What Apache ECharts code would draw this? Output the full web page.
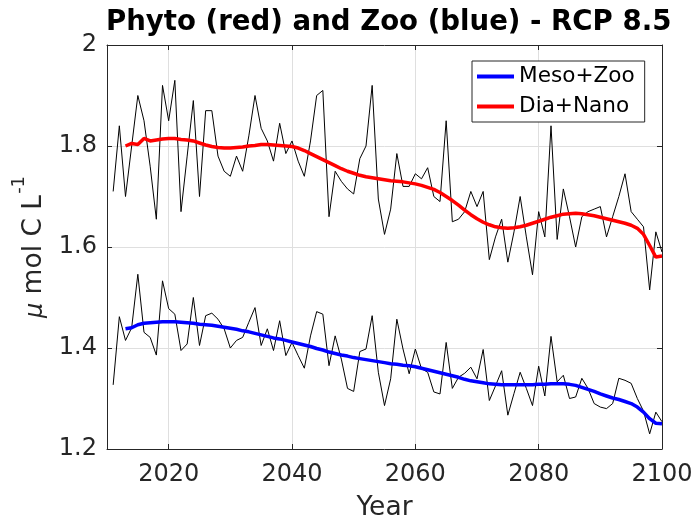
<!DOCTYPE html>
<html>
<head>
<meta charset="utf-8">
<script src="https://cdn.jsdelivr.net/npm/echarts@6/dist/echarts.min.js"></script>
<style>
html,body{margin:0;padding:0;background:#fff;}
#chart{width:699px;height:527px;}
</style>
</head>
<body>
<div id="chart"></div>
<script>
// ---- data ----
var rawStartYear = 2011;   // first year of annual (black) series
var smoothStartYear = 2013; // first year of smoothed (coloured) series

var phytoAnnual = [
  1.71,1.84,1.70,1.80,1.90,1.85,1.76,1.655,1.92,1.85,
  1.93,1.67,1.78,1.89,1.70,1.87,1.87,1.78,1.75,1.74,
  1.78,1.75,1.82,1.90,1.835,1.81,1.77,1.845,1.785,1.81,
  1.77,1.74,1.81,1.90,1.91,1.66,1.75,1.73,1.715,1.705,
  1.775,1.80,1.92,1.695,1.625,1.675,1.785,1.72,1.72,1.745,
  1.735,1.757,1.70,1.69,1.85,1.65,1.655,1.67,1.71,1.68,
  1.71,1.575,1.62,1.655,1.57,1.63,1.70,1.62,1.545,1.67,
  1.62,1.84,1.615,1.715,1.66,1.60,1.66,1.67,1.675,1.68,
  1.62,1.66,1.70,1.745,1.67,1.655,1.64,1.515,1.63,1.59
];

var zooAnnual = [
  1.327,1.462,1.415,1.44,1.546,1.431,1.421,1.386,1.533,1.478,
  1.467,1.395,1.408,1.50,1.405,1.464,1.469,1.457,1.438,1.40,
  1.415,1.421,1.451,1.48,1.405,1.438,1.395,1.454,1.385,1.411,
  1.385,1.36,1.424,1.472,1.467,1.365,1.424,1.378,1.32,1.314,
  1.393,1.398,1.464,1.352,1.286,1.339,1.457,1.398,1.349,1.398,
  1.359,1.352,1.313,1.309,1.411,1.32,1.342,1.35,1.362,1.339,
  1.397,1.296,1.325,1.355,1.267,1.31,1.352,1.32,1.286,1.364,
  1.305,1.423,1.333,1.346,1.30,1.303,1.34,1.32,1.29,1.283,
  1.28,1.29,1.34,1.336,1.33,1.30,1.275,1.23,1.273,1.254
];

var diaNanoSmooth = [
  1.800,1.805,1.803,1.815,1.810,1.812,1.814,1.815,
  1.815,1.813,1.812,1.810,1.806,1.802,1.799,1.797,1.796,1.796,
  1.797,1.798,1.800,1.801,1.803,1.803,1.802,1.801,1.800,1.799,
  1.796,1.791,1.785,1.779,1.773,1.767,1.761,1.755,1.750,1.746,
  1.742,1.739,1.737,1.735,1.733,1.731,1.730,1.729,1.727,1.725,
  1.722,1.718,1.714,1.708,1.700,1.692,1.683,1.673,1.664,1.656,
  1.649,1.644,1.640,1.638,1.637,1.638,1.640,1.643,1.647,1.651,
  1.655,1.659,1.662,1.665,1.666,1.667,1.666,1.664,1.662,1.659,
  1.656,1.653,1.650,1.647,1.643,1.637,1.625,1.603,1.580,1.582
];

var mesoZooSmooth = [
  1.438,1.440,1.446,1.449,1.450,1.451,1.452,1.452,
  1.452,1.451,1.450,1.449,1.447,1.446,1.445,1.443,1.441,1.439,
  1.437,1.434,1.432,1.429,1.426,1.423,1.420,1.418,1.415,1.412,
  1.409,1.406,1.403,1.399,1.396,1.392,1.389,1.386,1.384,1.381,
  1.379,1.377,1.375,1.373,1.371,1.369,1.368,1.366,1.365,1.363,
  1.360,1.357,1.354,1.351,1.348,1.345,1.342,1.338,1.335,1.333,
  1.331,1.329,1.328,1.327,1.327,1.327,1.327,1.327,1.327,1.328,
  1.328,1.329,1.329,1.329,1.328,1.326,1.322,1.318,1.314,1.309,
  1.305,1.301,1.298,1.294,1.290,1.283,1.273,1.260,1.251,1.250
];

var legendNames = ['Meso+Zoo', 'Dia+Nano'];
var titleText = 'Phyto (red) and Zoo (blue) - RCP 8.5';
var xName = 'Year';

// ---- build ----
function pairs(start, vals) {
  return vals.map(function (v, i) { return [start + i, v]; });
}

var FONT = 'DejaVu Sans';
var AX = '#262626';
var GRIDC = '#dfdfdf';

var chart = echarts.init(document.getElementById('chart'), null, {renderer: 'canvas'});

var option = {
  backgroundColor: '#ffffff',
  animation: false,
  title: {
    text: titleText,
    left: 101,
    top: 4,
    textStyle: {fontFamily: FONT, fontSize: 27.6, fontWeight: 'bold', color: '#000'}
  },
  legend: {
    data: legendNames,
    orient: 'vertical',
    left: 472,
    top: 61,
    icon: 'rect',
    itemWidth: 37,
    itemHeight: 4,
    itemGap: 5,
    padding: [3, 10, 3, 5],
    backgroundColor: '#fff',
    borderColor: AX,
    borderWidth: 1,
    borderRadius: 0,
    textStyle: {fontFamily: FONT, fontSize: 21.6, color: '#000', lineHeight: 25}
  },
  grid: {left: 107, top: 45, width: 555, height: 405.5, containLabel: false},
  xAxis: [{
    type: 'value', min: 2010, max: 2100, splitNumber: 5,
    name: xName, nameLocation: 'middle', nameGap: 46,
    nameTextStyle: {fontFamily: FONT, fontSize: 26.5, color: AX},
    axisLine: {show: true, onZero: false, lineStyle: {color: AX, width: 1}},
    axisTick: {show: true, inside: true, length: 5, lineStyle: {color: AX}},
    axisLabel: {
      show: true, showMinLabel: false, fontFamily: FONT, fontSize: 24, color: AX, margin: 14,
      formatter: function (v) { return String(v); }
    },
    splitLine: {show: true, lineStyle: {color: GRIDC, width: 1}}
  }, {
    type: 'value', min: 2010, max: 2100, splitNumber: 5, position: 'top',
    axisLine: {show: true, onZero: false, lineStyle: {color: AX, width: 1}},
    axisTick: {show: true, inside: true, length: 5, lineStyle: {color: AX}},
    axisLabel: {show: false},
    splitLine: {show: false}
  }],
  yAxis: [{
    type: 'value', min: 1.2, max: 2.0, interval: 0.2,
    name: '{mu|μ}{a| mol C L}{s|-1}',
    nameLocation: 'middle', nameGap: 52, nameRotate: 90,
    nameTextStyle: {
      fontFamily: FONT, fontSize: 26.5, color: AX,
      rich: {
        mu: {fontFamily: FONT, fontSize: 24, fontStyle: 'italic', color: AX, lineHeight: 38, verticalAlign: 'bottom'},
        a: {fontFamily: FONT, fontSize: 26.5, color: AX, lineHeight: 38, verticalAlign: 'bottom'},
        s: {fontFamily: FONT, fontSize: 18, color: AX, lineHeight: 22, verticalAlign: 'top', padding: [0, 0, 0, 1]}
      }
    },
    axisLine: {show: true, onZero: false, lineStyle: {color: AX, width: 1}},
    axisTick: {show: true, inside: true, length: 5, lineStyle: {color: AX}},
    axisLabel: {fontFamily: FONT, fontSize: 24, color: AX, margin: 10},
    splitLine: {show: true, lineStyle: {color: GRIDC, width: 1}}
  }, {
    type: 'value', min: 1.2, max: 2.0, interval: 0.2, position: 'right',
    axisLine: {show: true, onZero: false, lineStyle: {color: AX, width: 1}},
    axisTick: {show: true, inside: true, length: 5, lineStyle: {color: AX}},
    axisLabel: {show: false},
    splitLine: {show: false}
  }],
  series: [
    {
      name: 'phytoAnnual', type: 'line', xAxisIndex: 0, yAxisIndex: 0,
      data: pairs(rawStartYear, phytoAnnual), symbol: 'none',
      lineStyle: {color: '#000', width: 1}, z: 2, silent: true
    },
    {
      name: 'zooAnnual', type: 'line', xAxisIndex: 0, yAxisIndex: 0,
      data: pairs(rawStartYear, zooAnnual), symbol: 'none',
      lineStyle: {color: '#000', width: 1}, z: 2, silent: true
    },
    {
      name: legendNames[0], type: 'line', xAxisIndex: 0, yAxisIndex: 0,
      data: pairs(smoothStartYear, mesoZooSmooth), symbol: 'none',
      itemStyle: {color: '#0000ff'},
      lineStyle: {color: '#0000ff', width: 3.5}, z: 3
    },
    {
      name: legendNames[1], type: 'line', xAxisIndex: 0, yAxisIndex: 0,
      data: pairs(smoothStartYear, diaNanoSmooth), symbol: 'none',
      itemStyle: {color: '#ff0000'},
      lineStyle: {color: '#ff0000', width: 3.5}, z: 3
    }
  ]
};
chart.setOption(option);
</script>
</body>
</html>
